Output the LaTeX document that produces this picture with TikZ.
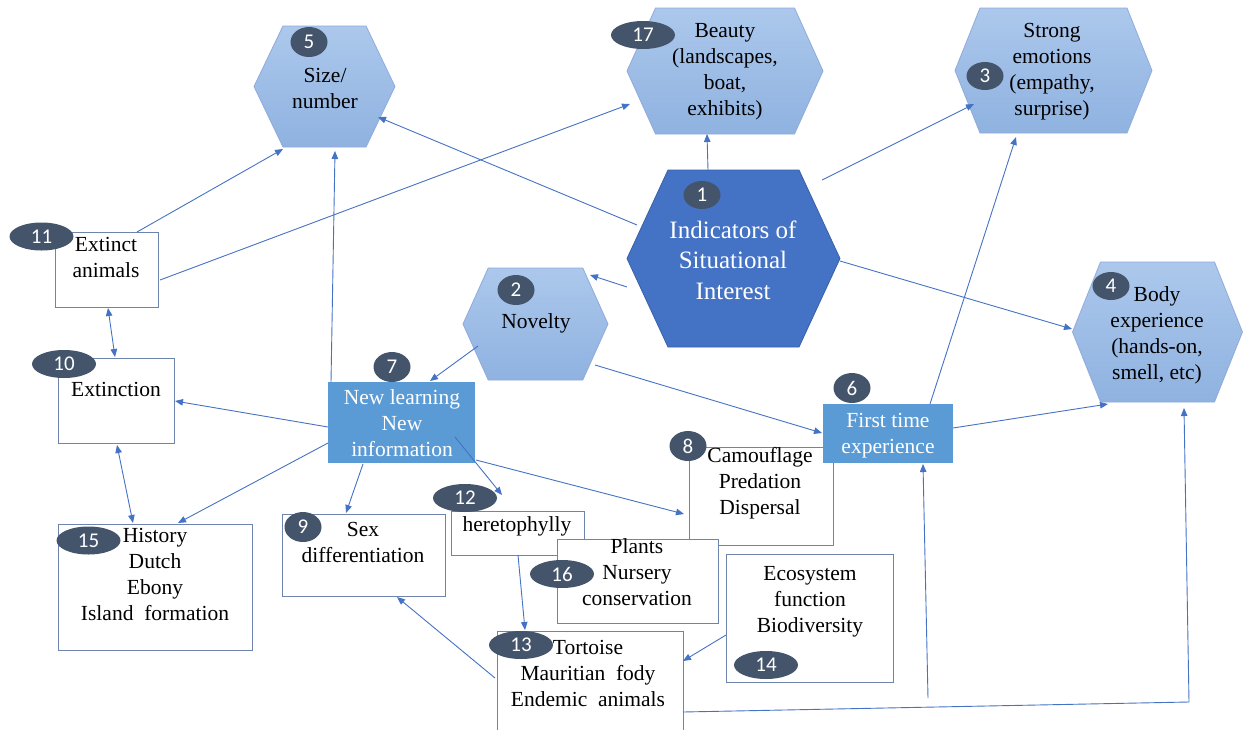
\documentclass[tikz,border=0pt]{standalone}
\usepackage{fontspec}
\setmainfont{Liberation Serif}
\newfontfamily\labelfont{Liberation Serif}
\newfontfamily\badgefont{Carlito}
\usetikzlibrary{shapes.symbols,shapes.geometric,arrows.meta,calc}
\definecolor{hextop}{RGB}{172,200,236}
\definecolor{hexbot}{RGB}{143,178,224}
\definecolor{hexline}{RGB}{143,170,220}
\definecolor{coreblue}{RGB}{68,114,196}
\definecolor{coreline}{RGB}{58,96,170}
\definecolor{midblue}{RGB}{91,155,213}
\definecolor{badgecol}{RGB}{68,84,106}
\definecolor{boxline}{RGB}{110,132,172}
\definecolor{linkcol}{RGB}{68,114,196}
\begin{document}
\begin{tikzpicture}[x=1pt,y=-1pt,
  hexa/.style={signal, signal to=east and west, draw=hexline, line width=0.8pt,
    top color=hextop, bottom color=hexbot, inner sep=0pt},
  core/.style={signal, signal to=east and west, draw=coreline, line width=0.8pt,
    fill=coreblue, inner sep=0pt},
  box/.style={rectangle, draw=boxline, line width=0.9pt, fill=white, inner sep=0pt},
  keybox/.style={rectangle, fill=midblue, inner sep=0pt},
  txt/.style={align=center, inner sep=0pt, font=\labelfont\fontsize{21.5}{26}\selectfont},
  wtxt/.style={txt, text=white},
  badge/.style={ellipse, fill=badgecol, text=white, inner sep=0pt,
    minimum width=37pt, minimum height=30pt, font=\badgefont\fontsize{21}{21}\selectfont},
  wide/.style={minimum width=64pt, minimum height=28pt},
  link/.style={draw=linkcol, line width=0.9pt, -{Triangle[length=8pt,width=6.5pt]}},
  twoway/.style={link, {Triangle[length=8pt,width=6.5pt]}-{Triangle[length=8pt,width=6.5pt]}},
]
\useasboundingbox (0,0) rectangle (1243,729);
\clip (0,0) rectangle (1243,729);

% hexagonal indicator shapes
\node[hexa, minimum width=141pt, minimum height=121pt, signal pointer angle=128.8] (h5) at (324.5,86.5) {};
\node[hexa, minimum width=196pt, minimum height=126pt, signal pointer angle=131.3] (h17) at (725,71) {};
\node[hexa, minimum width=197pt, minimum height=125pt, signal pointer angle=136.4] (h3) at (1053.5,70.5) {};
\node[hexa, minimum width=145pt, minimum height=112pt, signal pointer angle=131.5] (h2) at (535.5,324) {};
\node[hexa, minimum width=170pt, minimum height=140pt, signal pointer angle=136.4] (h4) at (1157.5,332) {};
\node[core, minimum width=213pt, minimum height=177pt, signal pointer angle=130.3] (h1) at (733.5,258.5) {};

% rectangular topic boxes
\node[box, minimum width=103pt, minimum height=75pt] (b11) at (106.5,269.5) {};
\node[box, minimum width=116pt, minimum height=85pt] (b10) at (116,400.5) {};
\node[box, minimum width=194pt, minimum height=126pt] (b15) at (155,587) {};
\node[box, minimum width=163pt, minimum height=82pt] (b9) at (363.5,555) {};
\node[box, minimum width=133pt, minimum height=44pt] (b12) at (517.5,533) {};
\node[box, minimum width=144pt, minimum height=98pt] (b8) at (761,496) {};
\node[box, minimum width=161pt, minimum height=84pt] (b16) at (637.5,581) {};
\node[box, minimum width=167pt, minimum height=128pt] (b14) at (809.5,618) {};
\node[box, minimum width=186pt, minimum height=110pt] (b13) at (590,686) {};
\node[keybox, minimum width=147pt, minimum height=81pt] (b7) at (401.5,422.5) {};
\node[keybox, minimum width=130pt, minimum height=59pt] (b6) at (888,433.5) {};

% connectors
\draw[link] ($(h1)+(-96.5,-33.5)$) -- ($(h5)+(53.5,30.5)$);
\draw[link] ($(h1)+(-25.5,-88.5)$) -- ($(h17)+(-18,63)$);
\draw[link] ($(h1)+(88.5,-78.5)$) -- ($(h3)+(-79.5,33.5)$);
\draw[link] ($(h1)+(106.5,2.5)$) -- ($(h4)+(-85.5,-3)$);
\draw[link] ($(h1)+(-106.5,28.5)$) -- ($(h2)+(54.5,-49)$);
\draw[link] ($(b11)+(30.5,-37.5)$) -- ($(h5)+(-41.5,62.5)$);
\draw[link] ($(b11)+(53.5,10.5)$) -- ($(h17)+(-95,33)$);
\draw[link] ($(b7)+(-70.5,-40.5)$) -- ($(h5)+(10.5,64.5)$);
\draw[twoway] ($(b11)+(1.5,38.5)$) -- ($(b10)+(-1,-43.5)$);
\draw[twoway] ($(b10)+(1,44.5)$) -- ($(b15)+(-22,-64)$);
\draw[link] ($(b7)+(-73.5,4.5)$) -- ($(b10)+(59,0.5)$);
\draw[link] ($(b7)+(-73.5,20.5)$) -- ($(b15)+(23,-64)$);
\draw[link] ($(b7)+(-38.5,41.5)$) -- ($(b9)+(-17.5,-42)$);
\draw[link] ($(h2)+(-57.5,22)$) -- ($(b7)+(28.5,-41.5)$);
\draw[link] ($(b7)+(53.5,14.5)$) -- ($(b12)+(-15.5,-38)$);
\draw[link] ($(b7)+(74.5,37.5)$) -- ($(b8)+(-77,18)$);
\draw[link] ($(h2)+(59.5,41)$) -- ($(b6)+(-66,-0.5)$);
\draw[link] ($(b6)+(42,-29.5)$) -- ($(h3)+(-37.5,66.5)$);
\draw[link] ($(b6)+(65,-5.5)$) -- ($(h4)+(-49.5,72)$);
\draw[link] ($(b12)+(0.5,22)$) -- ($(b13)+(-65,-56)$);
\draw[link] ($(b13)+(-95,-8)$) -- ($(b9)+(33.5,42)$);
\draw[link] ($(b14)+(-83.5,17)$) -- ($(b13)+(93,-25)$);
\coordinate (c1) at (1189,702);
\draw[link] ($(b13)+(93,26)$) -- (c1) -- ($(h4)+(26.5,76)$);
\coordinate (c2) at (928,698);
\draw[link] (c2) -- ($(b6)+(35,30.5)$);

% labels
\node[txt] (t5) at (325,88) {Size/\\number};
\node[txt] (t17) at (725,72) {Beauty\\(landscapes,\\boat,\\exhibits)};
\node[txt] (t3) at (1052,72) {Strong\\emotions\\(empathy,\\surprise)};
\node[txt] (t4) at (1157,335) {Body\\experience\\(hands-on,\\smell, etc)};
\node[wtxt, font=\labelfont\fontsize{25}{30.5}\selectfont] (t1) at (733,260) {Indicators of\\Situational\\Interest};
\node[txt] (t2) at (536,323) {Novelty};
\node[txt] (t11) at (106,257.5) {Extinct\\animals};
\node[txt] (t10) at (116,389) {Extinction};
\node[txt] (t15) at (155,574.5) {History\\Dutch\\Ebony\\Island~ formation};
\node[txt] (t9) at (363,542.5) {Sex\\differentiation};
\node[wtxt] (t7) at (402,423) {New learning\\New\\information};
\node[txt] (t12) at (517,526) {heretophylly};
\node[txt] (t16) at (637,572.5) {Plants\\Nursery\\conservation};
\node[txt] (t8) at (760,483) {Camouflage\\Predation\\Dispersal};
\node[wtxt] (t6) at (888,435.5) {First time\\experience};
\node[txt] (t13) at (588,673) {Tortoise\\Mauritian~ fody\\Endemic~ animals};
\node[txt] (t14) at (810,602) {Ecosystem\\function\\Biodiversity};

% number badges
\node[badge] (k5) at (309,42) {5};
\node[badge, wide] (k17) at (643,35) {17};
\node[badge, minimum height=28pt] (k1) at (702,195) {1};
\node[badge] (k2) at (516,290) {2};
\node[badge, minimum height=28pt] (k3) at (985,76) {3};
\node[badge, minimum height=28pt] (k4) at (1111,286) {4};
\node[badge] (k6) at (852,388) {6};
\node[badge] (k7) at (392,367) {7};
\node[badge] (k8) at (688,446) {8};
\node[badge] (k9) at (303,527) {9};
\node[badge, wide] (k10) at (64,364) {10};
\node[badge, wide] (k11) at (41.5,236.5) {11};
\node[badge, wide] (k12) at (465,498) {12};
\node[badge, wide] (k13) at (521,645) {13};
\node[badge, wide] (k14) at (766,665) {14};
\node[badge, wide] (k15) at (88.5,540.5) {15};
\node[badge, wide] (k16) at (562,574) {16};
\end{tikzpicture}
\end{document}
